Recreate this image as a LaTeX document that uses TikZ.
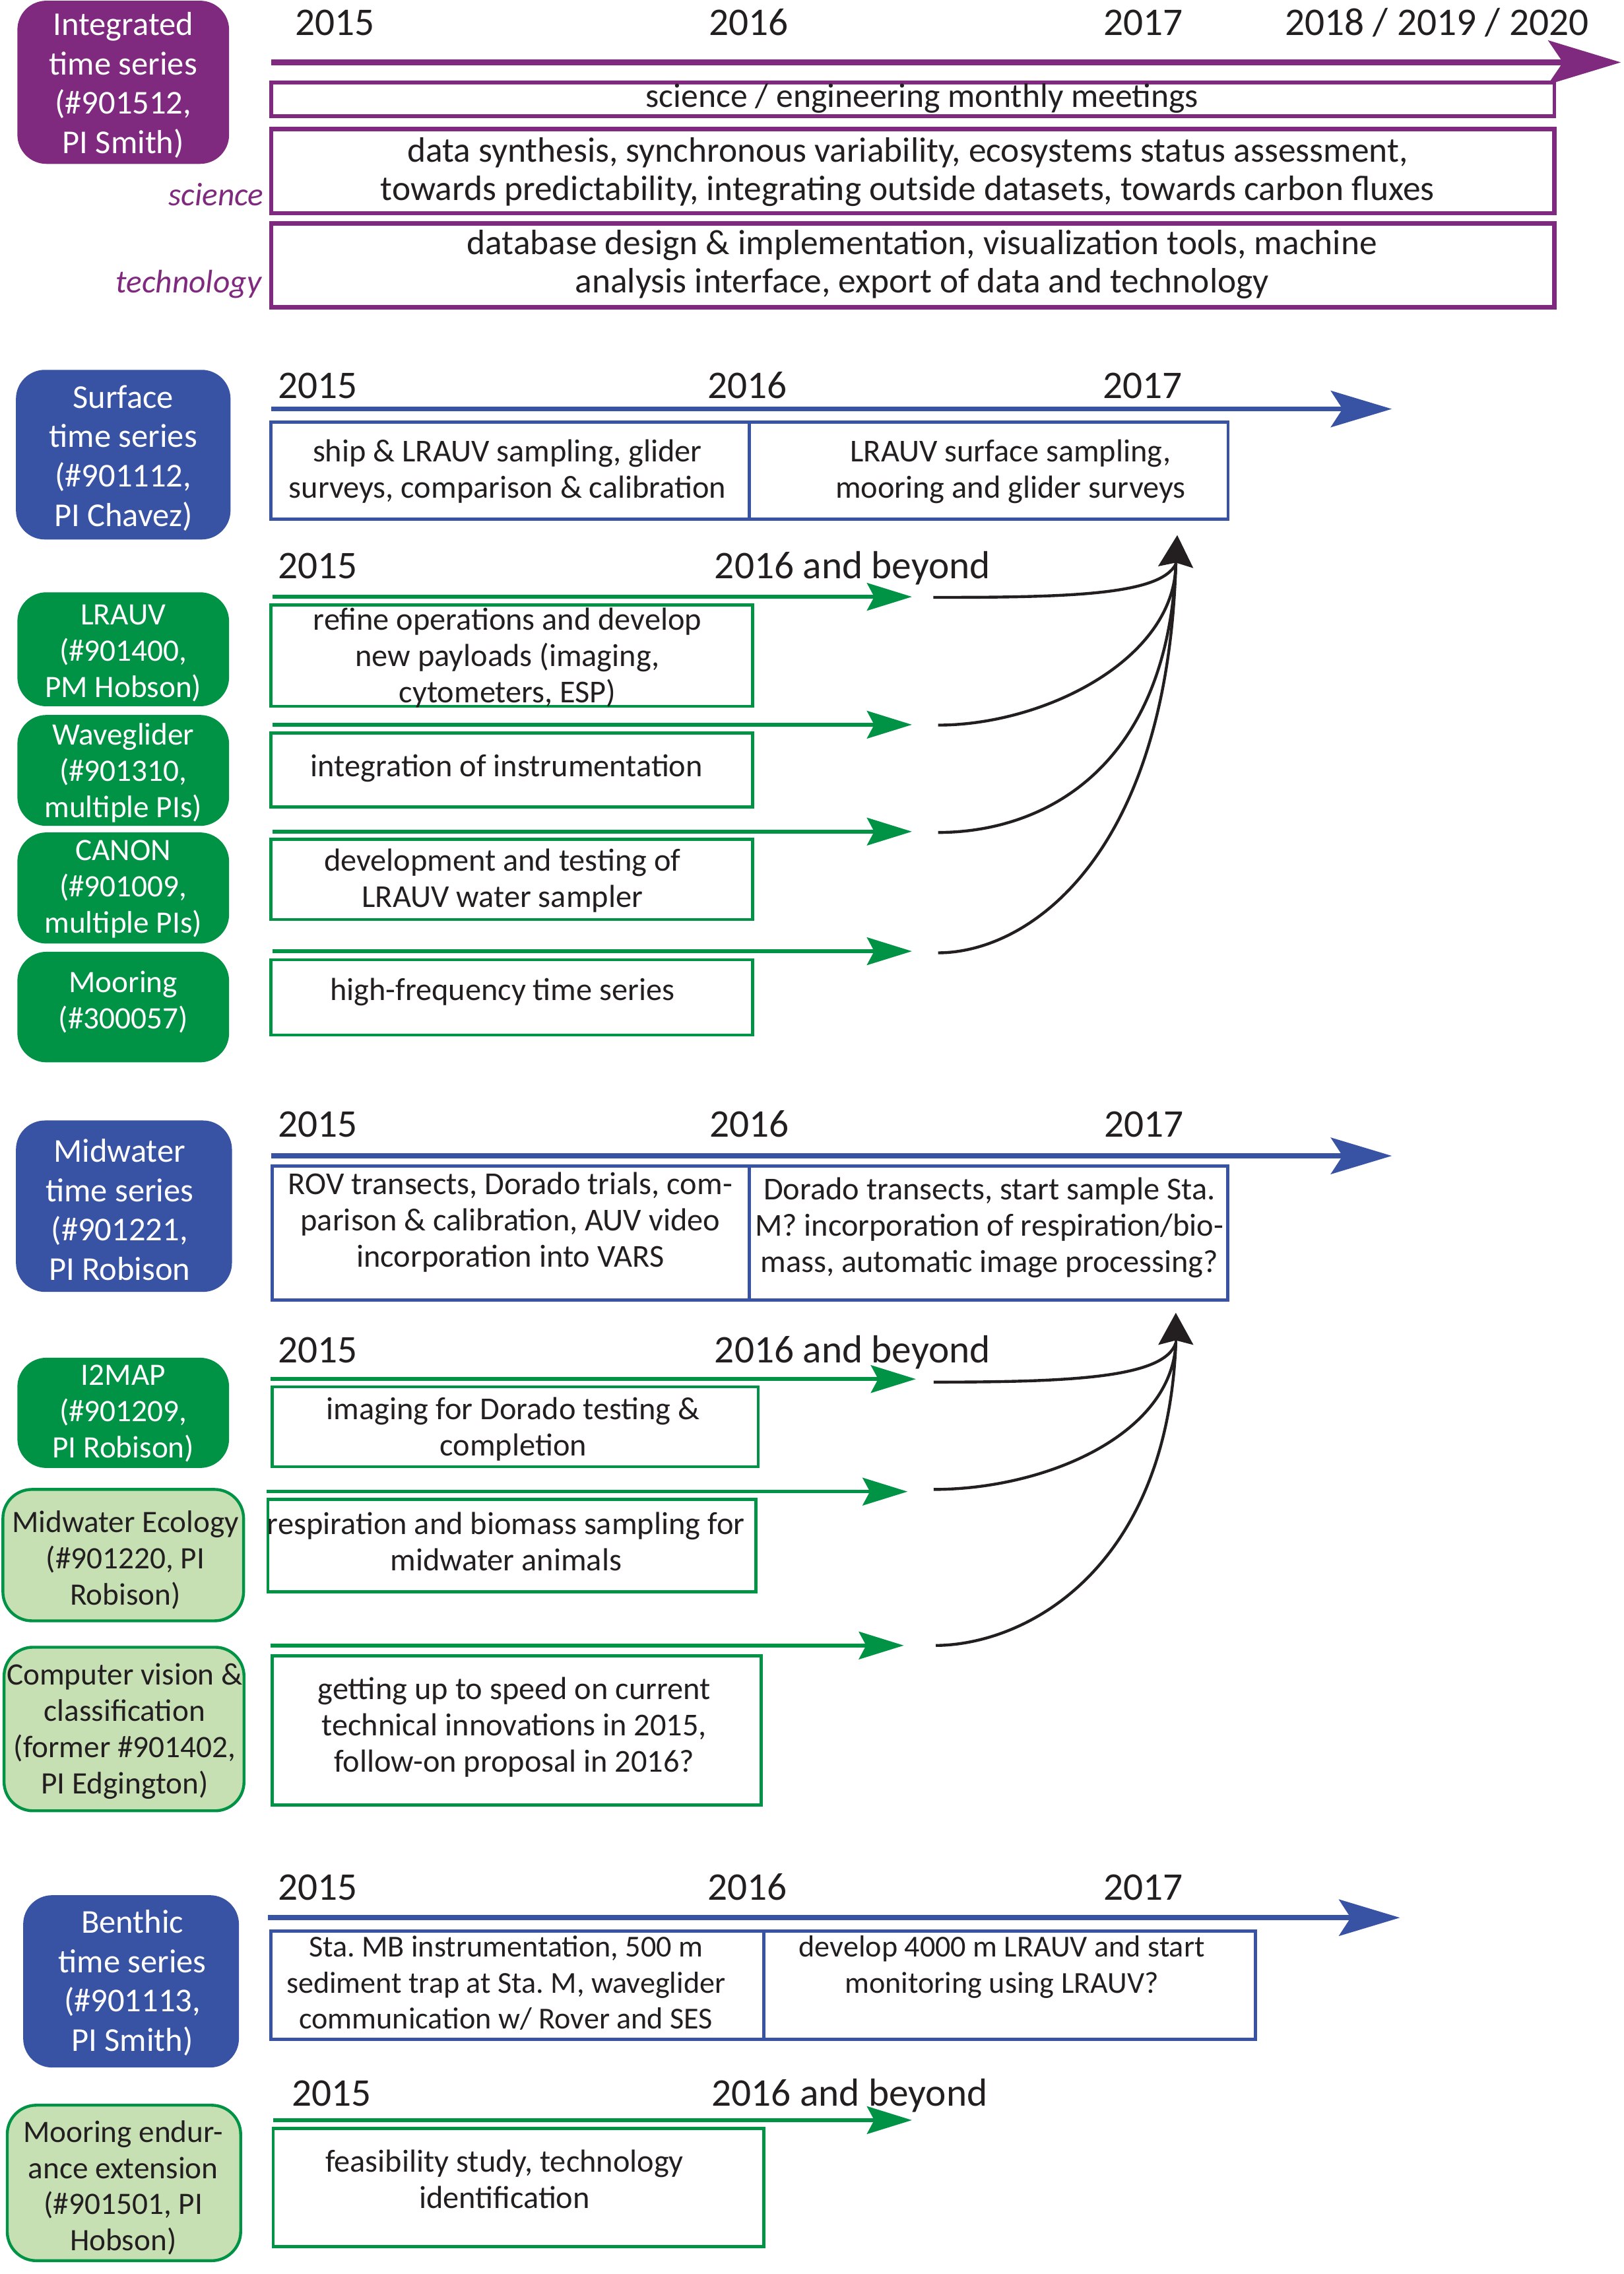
\documentclass[tikz,border=0pt]{standalone}
\usepackage{fontspec}
\setmainfont{Carlito}
\usetikzlibrary{arrows.meta}
\definecolor{cpurple}{HTML}{7F2A7F}
\definecolor{cblue}{HTML}{3953A4}
\definecolor{cgreen}{HTML}{009245}
\definecolor{clight}{HTML}{C6E0B4}
\definecolor{ctext}{HTML}{231F20}
\newcommand{\fs}[2]{\fontsize{#1}{#2}\selectfont}
\frenchspacing
\begin{document}
\frenchspacing
\begin{tikzpicture}[x=1pt,y=-1pt,
  every node/.style={text=ctext, inner sep=0pt},
  yr/.style={font=\fs{27}{32}, anchor=base},
  plabel/.style={font=\fs{23}{27.1}, text=white, align=center},
  glabel/.style={font=\fs{21.5}{25}, text=white, align=center},
  lglabel/.style={font=\fs{21.5}{25}, text=ctext, align=center},
  boxtxt/.style={font=\fs{22}{25}, align=center},
  ptxt/.style={font=\fs{24.3}{26.5}, align=center},
  sidelab/.style={font=\fs{22.5}{27}\itshape, text=cpurple, anchor=base east},
  pbox/.style={draw=cpurple, line width=3pt},
  bbox/.style={draw=cblue, line width=2.2pt},
  gbox/.style={draw=cgreen, line width=2.2pt},
  lgbox/.style={draw=cgreen, fill=clight, line width=2pt, rounded corners=20pt},
  parrow/.style={draw=cpurple, line width=4.5pt, -{Stealth[length=50pt,width=30pt,inset=10pt]}},
  barrow/.style={draw=cblue, line width=3.5pt, -{Stealth[length=42pt,width=25pt,inset=8pt]}},
  garrow/.style={draw=cgreen, line width=2.5pt, -{Stealth[length=31pt,width=19pt,inset=5pt]}},
  curvel/.style={draw=ctext, line width=2pt},
  headarrow/.style={draw=ctext, line width=2pt, -{Stealth[length=22pt,width=24pt,inset=3pt]}}
]
\fill[white] (0,0) rectangle (1120,1568);
\useasboundingbox (0,0) rectangle (1120,1568);

%% ---------------- Section 1: integrated
\fill[cpurple, rounded corners=20pt] (12,0.5) rectangle (158,113);
\node[plabel] (intlab) at (85,59.7) {\strut Integrated\\time series\\(\#901512,\\PI Smith)\strut};
\node[yr] (ya1) at (231,24.3) {2015};
\node[yr] (ya2) at (516.5,24.3) {2016};
\node[yr] (ya3) at (788.5,24.3) {2017};
\node[yr] (ya4) at (991,24.3) {2018 / 2019 / 2020};
\coordinate (pa0) at (187,43);
\coordinate (pa1) at (1118,43);
\draw[parrow] (pa0) -- (pa1);
\draw[pbox, line width=2.5pt] (187,57) rectangle (1072,80);
\node[font=\fs{23.5}{26.5}, anchor=base] (mtg) at (636,74) {science / engineering monthly meetings};
\draw[pbox] (187,89) rectangle (1072,147);
\node[ptxt] (sci) at (626,119.5) {\strut data synthesis, synchronous variability, ecosystems status assessment,\\towards predictability, integrating outside datasets, towards carbon fluxes\strut};
\draw[pbox] (187,154) rectangle (1072,212);
\node[ptxt] (tech) at (636,183.5) {\strut database design \& implementation, visualization tools, machine\\analysis interface, export of data and technology\strut};
\node[sidelab] (scil) at (182,142) {science};
\node[sidelab] (techl) at (180.5,202) {technology};

%% ---------------- Section 2: surface
\fill[cblue, rounded corners=20pt] (11,255) rectangle (159,372);
\node[plabel] (surflab) at (85,316.7) {\strut Surface\\time series\\(\#901112,\\PI Chavez)\strut};
\node[yr] (yb1) at (219,274.5) {2015};
\node[yr] (yb2) at (515.5,274.5) {2016};
\node[yr] (yb3) at (788,274.5) {2017};
\coordinate (ba0) at (187,282);
\coordinate (ba1) at (960,282);
\draw[barrow] (ba0) -- (ba1);
\draw[bbox] (187,291) rectangle (847,358);
\draw[bbox] (517,291) -- (517,358);
\node[boxtxt] (s1) at (350,325.9) {\strut ship \& LRAUV sampling, glider\\surveys, comparison \& calibration\strut};
\node[boxtxt] (s2) at (697,325.9) {\strut LRAUV surface sampling,\\mooring and glider surveys\strut};
\node[yr] (yc1) at (219,398.8) {2015};
\node[yr] (yc2) at (588,398.8) {2016 and beyond};

\coordinate (g1s) at (188,411.5); \coordinate (g1e) at (629,411.5);
\coordinate (g2s) at (188,499.7); \coordinate (g2e) at (629,499.7);
\coordinate (g3s) at (188,573.4); \coordinate (g3e) at (629,573.4);
\coordinate (g4s) at (188,655.9); \coordinate (g4e) at (629,655.9);
\draw[garrow] (g1s) -- (g1e);
\draw[garrow] (g2s) -- (g2e);
\draw[garrow] (g3s) -- (g3e);
\draw[garrow] (g4s) -- (g4e);

\fill[cgreen, rounded corners=20pt] (12,408.4) rectangle (158,487);
\node[glabel] (lrauv) at (85,451) {\strut LRAUV\\(\#901400,\\PM Hobson)\strut};
\fill[cgreen, rounded corners=20pt] (12,493) rectangle (158,569.5);
\node[glabel] (wave) at (85,533.7) {\strut Waveglider\\(\#901310,\\multiple PIs)\strut};
\fill[cgreen, rounded corners=20pt] (12,574) rectangle (158,650.6);
\node[glabel] (canon) at (85,613.4) {\strut CANON\\(\#901009,\\multiple PIs)\strut};
\fill[cgreen, rounded corners=20pt] (12,656.3) rectangle (158,732.5);
\node[glabel] (moor) at (85,691.9) {\strut Mooring\\(\#300057)\strut};

\draw[gbox] (187,417.3) rectangle (519,487);
\node[boxtxt] (t1) at (350,454.3) {\strut refine operations and develop\\new payloads (imaging,\\cytometers, ESP)\strut};
\draw[gbox] (187,505.6) rectangle (519,556.5);
\node[boxtxt] (t2) at (349.5,530.5) {\strut integration of instrumentation\strut};
\draw[gbox] (187,578.9) rectangle (519,634);
\node[boxtxt] (t3) at (346.5,608) {\strut development and testing of\\LRAUV water sampler\strut};
\draw[gbox] (187,661.8) rectangle (519,713.7);
\node[boxtxt] (t4) at (346.5,685) {\strut high-frequency time series\strut};

\coordinate (c1) at (643.7,411.9);
\coordinate (c2) at (647,500);
\coordinate (c3) at (647,574);
\coordinate (c4) at (647,657);
\coordinate (sh) at (811,389);
\coordinate (st) at (812,369);
\draw[curvel] (c1) .. controls (740,412) and (800,410) .. (sh);
\draw[curvel] (c2) .. controls (720,500) and (810,455) .. (sh);
\draw[curvel] (c3) .. controls (720,574) and (805,530) .. (sh);
\draw[curvel] (c4) .. controls (710,657) and (805,590) .. (sh);
\draw[headarrow] (sh) -- (st);

%% ---------------- Section 3: midwater
\fill[cblue, rounded corners=20pt] (11,772.6) rectangle (160,890.8);
\node[plabel] (midlab) at (82.5,836.7) {\strut Midwater\\time series\\(\#901221,\\PI Robison\strut};
\node[yr] (yd1) at (219,783.8) {2015};
\node[yr] (yd2) at (517,783.8) {2016};
\node[yr] (yd3) at (789,783.8) {2017};
\coordinate (da0) at (187,797);
\coordinate (da1) at (960,797);
\draw[barrow] (da0) -- (da1);
\draw[bbox] (187.6,804) rectangle (846.8,896.6);
\draw[bbox] (517,804) -- (517,896.6);
\node[boxtxt] (m1) at (352,843.5) {\strut ROV transects, Dorado trials, com-\\parison \& calibration, AUV video\\incorporation into VARS\strut};
\node[boxtxt] (m2) at (682.4,847.25) {\strut Dorado transects, start sample Sta.\\M? incorporation of respiration/bio-\\mass, automatic image processing?\strut};
\node[yr] (ye1) at (219,939.7) {2015};
\node[yr] (ye2) at (588,939.7) {2016 and beyond};

\coordinate (h1s) at (186.6,950.9); \coordinate (h1e) at (631.7,950.9);
\coordinate (h2s) at (183.8,1028.5); \coordinate (h2e) at (626,1028.5);
\coordinate (h3s) at (186.6,1134.6); \coordinate (h3e) at (623.4,1134.6);
\draw[garrow] (h1s) -- (h1e);
\draw[garrow] (h2s) -- (h2e);
\draw[garrow] (h3s) -- (h3e);

\fill[cgreen, rounded corners=20pt] (12,936.2) rectangle (158,1012.2);
\node[glabel] (i2map) at (85,975.3) {\strut I2MAP\\(\#901209,\\PI Robison)\strut};
\draw[lgbox] (2,1027) rectangle (168,1117.6);
\node[lglabel] (mweco) at (86.5,1076.5) {\strut Midwater Ecology\\(\#901220, PI\\Robison)\strut};
\draw[lgbox] (2.8,1135.8) rectangle (168.3,1248.6);
\node[lglabel] (cvis) at (86,1194.4) {\strut Computer vision \&\\classification\\(former \#901402,\\PI Edgington)\strut};

\draw[gbox] (187.6,956.3) rectangle (523,1011.3);
\node[boxtxt] (u1) at (354,986.3) {\strut imaging for Dorado testing \&\\completion\strut};
\draw[gbox] (184.8,1033.8) rectangle (521.3,1097.4);
\node[boxtxt] (u2) at (349,1065.6) {\strut respiration and biomass sampling for\\midwater animals\strut};
\draw[gbox] (187.6,1141.6) rectangle (525.2,1244.7);
\node[boxtxt] (u3) at (354.7,1192) {\strut getting up to speed on current\\technical innovations in 2015,\\follow-on proposal in 2016?\strut};

\coordinate (d1) at (644,953);
\coordinate (d2) at (644,1027);
\coordinate (d3) at (645.5,1134.6);
\coordinate (mh) at (811,926);
\coordinate (mt) at (811,905.2);
\draw[curvel] (d1) .. controls (740,953) and (803,950) .. (mh);
\draw[curvel] (d2) .. controls (720,1027) and (808,990) .. (mh);
\draw[curvel] (d3) .. controls (710,1134) and (805,1080) .. (mh);
\draw[headarrow] (mh) -- (mt);

%% ---------------- Section 4: benthic
\fill[cblue, rounded corners=20pt] (16,1306.8) rectangle (164.8,1425.6);
\node[plabel] (benlab) at (91.3,1368.2) {\strut Benthic\\time series\\(\#901113,\\PI Smith)\strut};
\node[yr] (yf1) at (219,1310.1) {2015};
\node[yr] (yf2) at (515.4,1310.1) {2016};
\node[yr] (yf3) at (788.7,1310.1) {2017};
\coordinate (ea0) at (185,1322.3);
\coordinate (ea1) at (965.6,1322.3);
\draw[barrow] (ea0) -- (ea1);
\draw[bbox] (187,1331.4) rectangle (866,1406.3);
\draw[bbox] (527,1331.4) -- (527,1406.3);
\node[boxtxt, font=\fs{21}{25}\frenchspacing] (b1) at (349,1369.1) {\strut Sta.\ MB instrumentation, 500 m\\sediment trap at Sta.\ M, waveglider\\communication w/ Rover and SES\strut};
\node[boxtxt, font=\fs{21}{25}] (b2) at (691,1357) {\strut develop 4000 m LRAUV and start\\monitoring using LRAUV?\strut};
\node[yr] (yg1) at (228.7,1452.2) {2015};
\node[yr] (yg2) at (586,1452.2) {2016 and beyond};
\coordinate (k1s) at (188.4,1461.9); \coordinate (k1e) at (629,1461.9);
\draw[garrow] (k1s) -- (k1e);
\draw[lgbox] (5,1451.6) rectangle (166,1558.8);
\node[lglabel] (mend) at (85,1509.5) {\strut Mooring endur-\\ance extension\\(\#901501, PI\\Hobson)\strut};
\draw[gbox] (188.4,1467.6) rectangle (527,1549);
\node[boxtxt] (v1) at (348,1505.25) {\strut feasibility study, technology\\identification\strut};
\end{tikzpicture}
\end{document}
